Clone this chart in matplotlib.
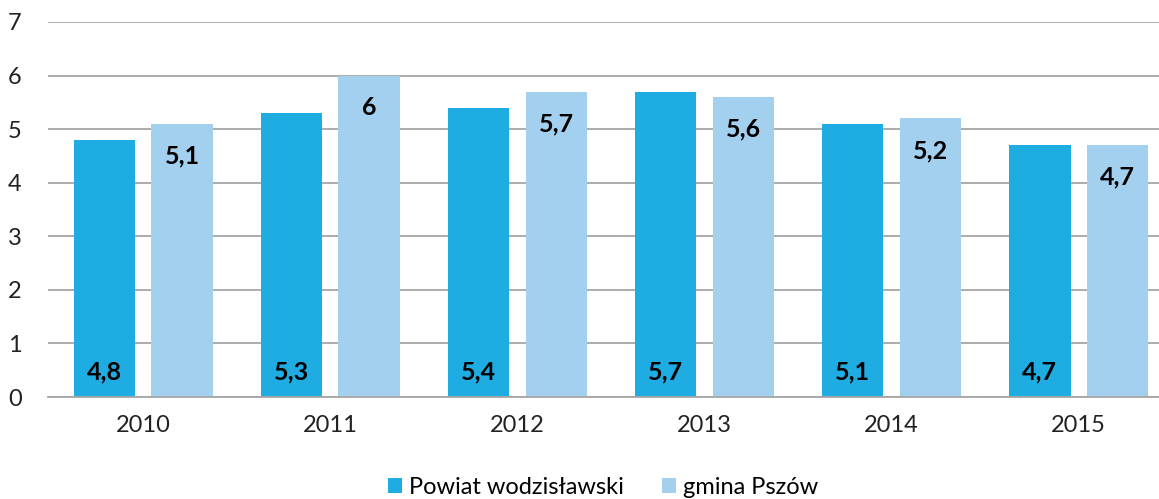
import matplotlib
matplotlib.use("Agg")
import matplotlib.pyplot as plt
import numpy as np

# data
years = ["2010", "2011", "2012", "2013", "2014", "2015"]
powiat = [4.8, 5.3, 5.4, 5.7, 5.1, 4.7]
gmina = [5.1, 6.0, 5.7, 5.6, 5.2, 4.7]
series_names = ["Powiat wodzisławski", "gmina Pszów"]

DARK = "#1FACE3"
LIGHT = "#A3D0EE"

plt.rcParams['font.family'] = ['Lato', 'DejaVu Sans']

fig = plt.figure(figsize=(11.59, 4.99), dpi=100)
ax = fig.add_axes([48 / 1159, 102 / 499, 1 - 48 / 1159, 375 / 499])

x = np.arange(len(years))
w = 0.33
gap = 0.086
off = (w + gap) / 2

b1 = ax.bar(x - off, powiat, w, color=DARK, label=series_names[0], zorder=2)
b2 = ax.bar(x + off, gmina, w, color=LIGHT, label=series_names[1], zorder=2)

def fmt(v):
    return (f"{v:g}").replace(".", ",")

# value labels: dark series at the bottom, light series near the top
for xi, v in zip(x, powiat):
    ax.text(xi - off, 0.47, fmt(v), ha="center", va="center",
            fontsize=18, fontweight="bold", color="black", zorder=3)
for xi, v in zip(x, gmina):
    ax.text(xi + off, v - 0.6, fmt(v), ha="center", va="center",
            fontsize=18, fontweight="bold", color="black", zorder=3)

ax.set_ylim(0, 7)
ax.set_yticks(range(0, 8))
ax.set_xlim(-0.51, 5.43)
ax.set_xticks(x)
ax.set_xticklabels(years)
ax.yaxis.grid(True, color="#A6A6A6", linewidth=1.3, zorder=0)
ax.set_axisbelow(True)
for s in ["top", "right", "left"]:
    ax.spines[s].set_visible(False)
ax.spines["bottom"].set_color("#A6A6A6")
ax.spines["bottom"].set_linewidth(1.3)
ax.tick_params(axis="both", length=0, labelsize=17, colors="#222222")
ax.tick_params(axis="y", pad=24)
ax.tick_params(axis="x", pad=13)
for lab in ax.get_yticklabels():
    lab.set_horizontalalignment("center")

fig.legend(handles=[b1, b2], loc="center", bbox_to_anchor=(603 / 1159, 12 / 499),
           ncol=2, frameon=False, fontsize=17, handlelength=0.6, handleheight=0.6,
           handletextpad=0.3, columnspacing=1.6)

fig.savefig("out.png", dpi=100)
